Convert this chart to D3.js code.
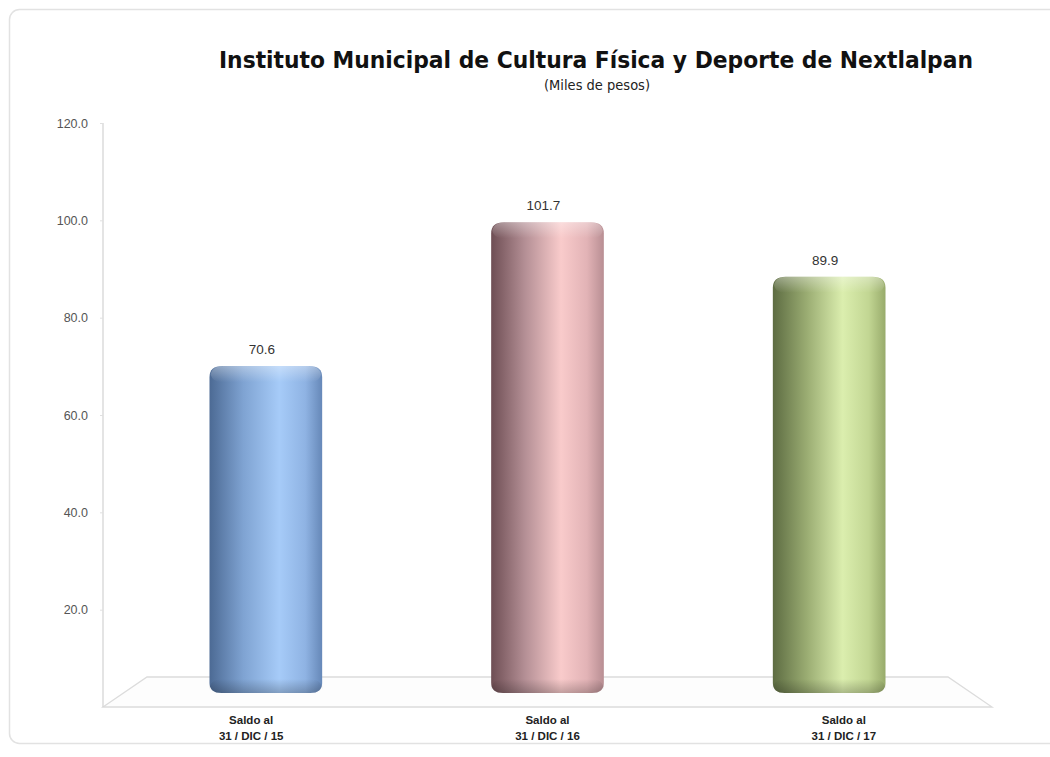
<!DOCTYPE html>
<html><head><meta charset="utf-8">
<script src="https://cdn.jsdelivr.net/npm/d3@7/dist/d3.min.js"></script>
<style>
html,body{margin:0;padding:0;background:#fff;}
svg{display:block;font-family:"Liberation Sans",Arial,sans-serif;}
</style></head>
<body>
<svg id="chart" width="1050" height="757"></svg>
<script>
const title = "Instituto Municipal de Cultura Física y Deporte de Nextlalpan";
const subtitle = "(Miles de pesos)";
const categoriesLine1 = ["Saldo al", "Saldo al", "Saldo al"];
const categoriesLine2 = ["31 / DIC / 15", "31 / DIC / 16", "31 / DIC / 17"];
const values = [70.6, 101.7, 89.9];
const yTicks = [20, 40, 60, 80, 100, 120];
const yMax = 120;
const barColors = [
  ["#4c6a94", "#7fa3d2", "#a6cbf8", "#8fb3e3", "#6688b8"],
  ["#6e4e54", "#b48f95", "#f9cbcb", "#e2b3b6", "#b88e93"],
  ["#5d6c42", "#9aac72", "#dbeeae", "#c2d693", "#98ab6b"]
];

const svg = d3.select("#chart");
const defs = svg.append("defs");

// frame
svg.append("rect").attr("x", 9.5).attr("y", 9.5).attr("width", 1050).attr("height", 734)
  .attr("rx", 10).attr("fill", "#fff").attr("stroke", "#e2e2e2").attr("stroke-width", 1.5);

// title
svg.append("text").attr("x", 596).attr("y", 68).attr("text-anchor", "middle")
  .attr("font-family", "'DejaVu Sans Condensed', 'DejaVu Sans', sans-serif")
  .attr("font-size", 23).attr("font-weight", "bold").attr("fill", "#111")
  .attr("textLength", 754).attr("lengthAdjust", "spacingAndGlyphs").text(title);
svg.append("text").attr("x", 597).attr("y", 90).attr("text-anchor", "middle")
  .attr("font-family", "'DejaVu Sans Condensed', 'DejaVu Sans', sans-serif")
  .attr("font-size", 14.5).attr("fill", "#222").text(subtitle);

// geometry
const front = {left: 103, right: 992, y: 707};
const back = {left: 147, right: 948, y: 677};
const mid = {left: (front.left + back.left) / 2, right: (front.right + back.right) / 2, y: (front.y + back.y) / 2};

const yAxisScale = d3.scaleLinear().domain([0, yMax]).range([front.y, 123]);
const yBar = d3.scaleLinear().domain([0, yMax]).range([mid.y + 1, mid.y + 1 - yMax * 4.63]);
const xFront = d3.scaleBand().domain(d3.range(values.length)).range([front.left, front.right]);
const xBar = d3.scaleBand().domain(d3.range(values.length)).range([mid.left, mid.right])
  .paddingInner(0.6).paddingOuter(0.3);

// floor
svg.append("path")
  .attr("d", `M${front.left},${front.y} L${back.left},${back.y} L${back.right},${back.y} L${front.right},${front.y} Z`)
  .attr("fill", "#fdfdfd").attr("stroke", "#dcdcdc").attr("stroke-width", 1.3);

// y axis
const axis = d3.axisLeft(yAxisScale).tickValues(yTicks).tickFormat(d3.format(".1f"))
  .tickSize(3).tickPadding(12);
const gAxis = svg.append("g").attr("transform", `translate(${front.left},0)`).call(axis);
gAxis.select(".domain").attr("stroke", "#d6d6d6").attr("stroke-width", 1.3)
  .attr("d", `M0,${yAxisScale(yMax)}V${front.y}`);
gAxis.selectAll(".tick line").attr("stroke", "#e0e0e0");
gAxis.selectAll(".tick text").attr("fill", "#555").attr("font-size", 12.5)
  .attr("font-family", "Liberation Sans, Arial, sans-serif");

// gradients
barColors.forEach((c, i) => {
  const g = defs.append("linearGradient").attr("id", "bg" + i).attr("x1", "0").attr("x2", "1").attr("y1", "0").attr("y2", "0");
  [[0, c[0]], [0.3, c[1]], [0.62, c[2]], [0.85, c[3]], [1, c[4]]].forEach(s =>
    g.append("stop").attr("offset", s[0]).attr("stop-color", s[1]));
});
const topG = defs.append("linearGradient").attr("id", "topHi").attr("x1", 0).attr("x2", 0).attr("y1", 0).attr("y2", 1);
topG.append("stop").attr("offset", 0).attr("stop-color", "#fff").attr("stop-opacity", 0.35);
topG.append("stop").attr("offset", 1).attr("stop-color", "#fff").attr("stop-opacity", 0);
const botG = defs.append("linearGradient").attr("id", "botSh").attr("x1", 0).attr("x2", 0).attr("y1", 0).attr("y2", 1);
botG.append("stop").attr("offset", 0).attr("stop-color", "#000").attr("stop-opacity", 0);
botG.append("stop").attr("offset", 1).attr("stop-color", "#000").attr("stop-opacity", 0.22);

function barPath(x0, x1, yt, yb) {
  const rt = 13, rty = 11, rb = 12, rby = 10;
  return `M${x0},${yt + rty} Q${x0},${yt} ${x0 + rt},${yt} L${x1 - rt},${yt} Q${x1},${yt} ${x1},${yt + rty}` +
    ` L${x1},${yb - rby} Q${x1},${yb} ${x1 - rb},${yb} L${x0 + rb},${yb} Q${x0},${yb} ${x0},${yb - rby} Z`;
}

const bars = svg.append("g").selectAll("g").data(values).join("g");
bars.each(function(v, i) {
  const g = d3.select(this);
  const x0 = xBar(i), x1 = xBar(i) + xBar.bandwidth();
  const yt = yBar(v), yb = yBar(0);
  g.append("path").attr("d", barPath(x0, x1, yt, yb)).attr("fill", `url(#bg${i})`);
  g.append("path").attr("d", barPath(x0 + 1, x1 - 1, yt, yt + 16)).attr("fill", "url(#topHi)");
  g.append("path").attr("d", barPath(x0, x1, yb - 14, yb)).attr("fill", "url(#botSh)");
  g.append("text").attr("x", xBar(i) + xBar.bandwidth() / 2 - 4).attr("y", yt - 12)
    .attr("text-anchor", "middle").attr("font-size", 13.5).attr("fill", "#333")
    .text(d3.format(".1f")(v));
});

// x labels
const xl = svg.append("g").selectAll("text").data(values).join("text")
  .attr("text-anchor", "middle").attr("font-size", 11.5).attr("font-weight", "bold").attr("fill", "#222");
xl.append("tspan").attr("x", (d, i) => xFront(i) + xFront.bandwidth() / 2).attr("y", 724)
  .text((d, i) => categoriesLine1[i]);
xl.append("tspan").attr("x", (d, i) => xFront(i) + xFront.bandwidth() / 2).attr("y", 740)
  .text((d, i) => categoriesLine2[i]);
</script>
</body></html>
